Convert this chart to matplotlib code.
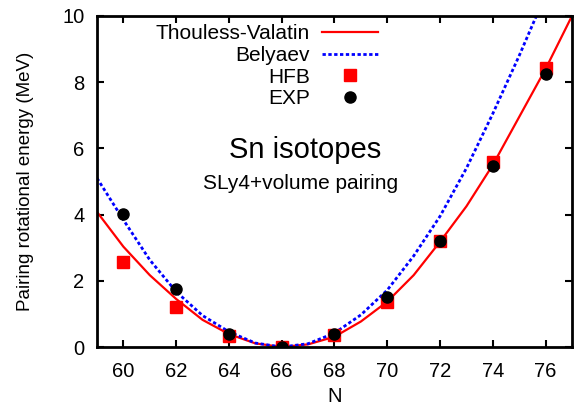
import matplotlib.pyplot as plt

plt.rcParams['font.family'] = ['Liberation Sans', 'DejaVu Sans']

# curves (MeV)
tv_n = [59, 60, 61, 62, 63, 64, 65, 66, 67, 68, 69, 70, 71, 72, 73, 74, 75, 76, 77]
tv_e = [4.08, 3.03, 2.17, 1.45, 0.82, 0.39, 0.11, 0.0, 0.08, 0.31, 0.77, 1.37, 2.17, 3.18, 4.25, 5.5, 6.95, 8.4, 10.0]

bel_n = [59, 60, 61, 62, 63, 64, 65, 66, 67, 68, 69, 70, 71, 72, 73, 74, 75, 75.65]
bel_e = [5.1, 3.84, 2.63, 1.67, 0.95, 0.46, 0.12, 0.0, 0.1, 0.42, 0.97, 1.72, 2.75, 3.95, 5.4, 7.05, 8.8, 10.0]

# points
n_pts = [60, 62, 64, 66, 68, 70, 72, 74, 76]
hfb = [2.56, 1.20, 0.33, 0.0, 0.35, 1.37, 3.19, 5.6, 8.43]
exp = [4.03, 1.76, 0.40, 0.0, 0.40, 1.51, 3.21, 5.47, 8.25]

fig = plt.figure(figsize=(5.74, 4.08), dpi=100)
ax = fig.add_axes([0.169, 0.1495, 0.8275, 0.8115])

ax.plot(tv_n, tv_e, color='red', lw=1.6, label='Thouless-Valatin')
ax.plot(bel_n, bel_e, color='blue', lw=2, linestyle=(0, (1.2, 0.9)), label='Belyaev')
ax.plot(n_pts, hfb, 's', color='red', ms=8, mec='red', label='HFB')
ax.plot(n_pts, exp, 'o', color='black', ms=8, label='EXP')

ax.set_xlim(59, 77)
ax.set_ylim(0, 10)
ax.set_xticks(range(60, 77, 2))
ax.set_yticks(range(0, 11, 2))
ax.tick_params(direction='in', top=True, right=True, length=5, width=1.5,
               labelsize=14.5)
ax.tick_params(axis='x', pad=11)
ax.tick_params(axis='y', pad=9)
for s in ax.spines.values():
    s.set_linewidth(2)

ax.set_xlabel('N', fontsize=14.5, labelpad=4)
ax.set_ylabel('Pairing rotational energy (MeV)', fontsize=13.5, labelpad=20)

leg = ax.legend(loc='upper right', bbox_to_anchor=(0.61, 1.0), frameon=False,
                fontsize=15, markerfirst=False, handlelength=2.7,
                labelspacing=0.13, borderaxespad=0, handletextpad=0.6)
for t in leg.get_texts():
    t.set_ha('right')
leg._legend_box.align = 'right'

ax.text(66.9, 5.95, 'Sn isotopes', fontsize=21, ha='center', va='center')
ax.text(66.7, 4.95, 'SLy4+volume pairing', fontsize=15, ha='center', va='center')

fig.savefig('out.png', dpi=100)
